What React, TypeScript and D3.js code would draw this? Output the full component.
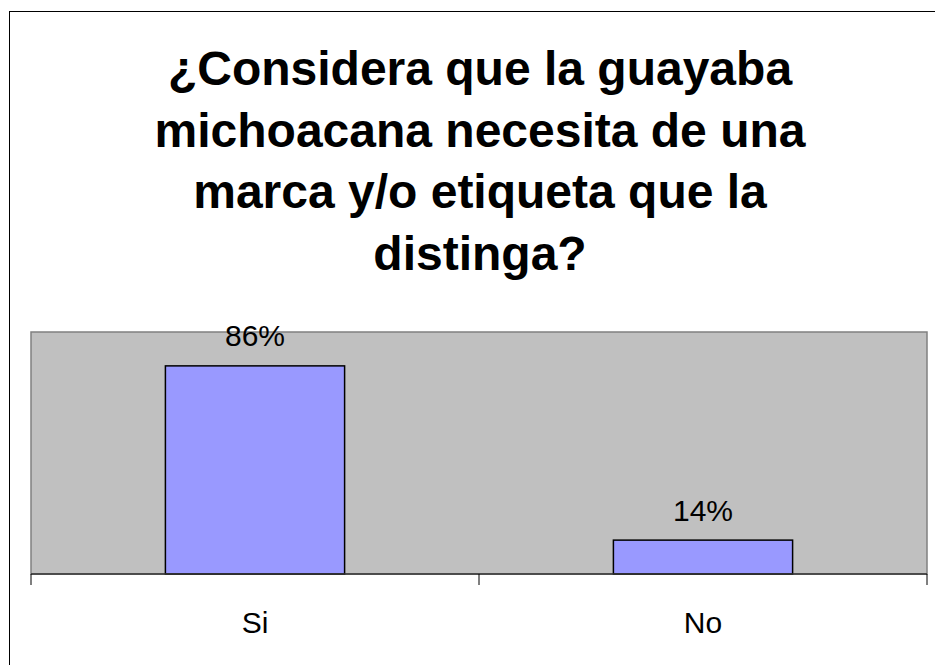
import React from "react";
import * as d3 from "d3";

const categories = ["Si", "No"];
const values = [0.86, 0.14];
const valueLabels = ["86%", "14%"];
const titleLines = [
  "¿Considera que la guayaba",
  "michoacana necesita de una",
  "marca y/o etiqueta que la",
  "distinga?",
];

export default function App() {
  const W = 935;
  const H = 665;
  const plot = { left: 31, right: 927, top: 332, bottom: 574 };

  const x = d3
    .scaleBand<string>()
    .domain(categories)
    .range([plot.left, plot.right])
    .padding(0);
  const y = d3.scaleLinear().domain([0, 1]).range([plot.bottom, plot.top]);

  const band = x.bandwidth();
  const barW = band / 2.5; // gap width 150%
  const font = "Arial, 'Liberation Sans', sans-serif";

  const tickXs = [plot.left, ...categories.map((c) => (x(c) as number) + band)];

  return (
    <svg
      width={W}
      height={H}
      style={{ position: "absolute", left: 0, top: 0, background: "#fff" }}
    >
      <rect x={0} y={0} width={W} height={H} fill="#fff" />
      <rect
        x={9.5}
        y={11.5}
        width={W + 10}
        height={H + 10}
        fill="none"
        stroke="#000"
        strokeWidth={1}
      />
      {titleLines.map((t, i) => (
        <text
          key={i}
          x={480}
          y={85 + i * 61.7}
          textAnchor="middle"
          fontFamily={font}
          fontWeight="bold"
          fontSize={48}
          fill="#000"
        >
          {t}
        </text>
      ))}
      <rect
        x={plot.left}
        y={plot.top}
        width={plot.right - plot.left}
        height={plot.bottom - plot.top}
        fill="#c0c0c0"
        stroke="#808080"
        strokeWidth={1.5}
      />
      {categories.map((c, i) => {
        const cx = (x(c) as number) + band / 2;
        const top = y(values[i]);
        return (
          <g key={c}>
            <rect
              x={cx - barW / 2}
              y={top}
              width={barW}
              height={plot.bottom - top}
              fill="#9999ff"
              stroke="#000"
              strokeWidth={1.5}
            />
            <text
              x={cx}
              y={top - 19.5}
              textAnchor="middle"
              fontFamily={font}
              fontSize={30}
              fill="#000"
            >
              {valueLabels[i]}
            </text>
            <text
              x={cx}
              y={633}
              textAnchor="middle"
              fontFamily={font}
              fontSize={30}
              fill="#000"
            >
              {c}
            </text>
          </g>
        );
      })}
      <line
        x1={plot.left}
        x2={plot.right}
        y1={plot.bottom}
        y2={plot.bottom}
        stroke="#333"
        strokeWidth={1.5}
      />
      {tickXs.map((tx, i) => (
        <line
          key={i}
          x1={tx}
          x2={tx}
          y1={plot.bottom}
          y2={plot.bottom + 11}
          stroke="#000"
          strokeWidth={1}
        />
      ))}
    </svg>
  );
}
